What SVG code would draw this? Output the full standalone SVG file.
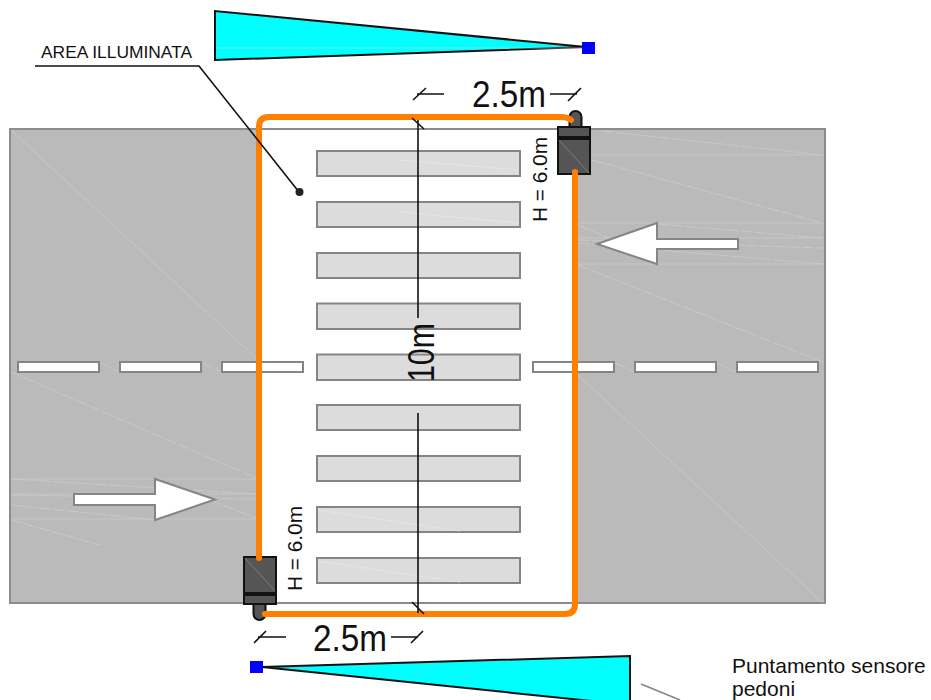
<svg xmlns="http://www.w3.org/2000/svg" width="931" height="700" viewBox="0 0 931 700">
<style>
text{font-family:"Liberation Sans",Arial,sans-serif;fill:#111}
.road{fill:#bababa;stroke:#8c8c8c;stroke-width:2}
.edge{fill:none;stroke:#8c8c8c;stroke-width:2}
.stripe{fill:#dcdcdc;stroke:#858585;stroke-width:2}
.dash{fill:#fff;stroke:#858585;stroke-width:2}
.arrow{fill:#fff;stroke:#858585;stroke-width:2}
.faint{fill:none;stroke:#d2d2d2;stroke-width:.6}
.fd{fill:none;stroke:#d2d2d2;stroke-width:.6;stroke-dasharray:12 2}
.st{fill:none;stroke:#ececec;stroke-width:.6;stroke-dasharray:12 2}
.orange{fill:none;stroke:#ff8000;stroke-width:6;stroke-linecap:round}
.body{fill:#555;stroke:#111;stroke-width:2}
.inner{fill:none;stroke:#999;stroke-width:.6}
.dim{fill:none;stroke:#111;stroke-width:1.6}
.cone{fill:#00ffff;stroke:#111;stroke-width:2}
.blue{fill:#0000ff}
.dimt{font-size:37px}
.ht{font-size:20.8px}
</style>
<g id="road">
<rect class="road" x="10" y="129" width="250" height="474"/>
<rect class="road" x="576" y="129" width="249" height="474"/>
<path class="edge" d="M260 129H576M260 603H576"/>
<g>
<path class="faint" d="M11 130L256 358M11 479H256M11 494H256M11 519H256M590 155H823M578 223H823M578 238H823M578 264H823M578 375L823 603"/>
<path class="fd" d="M11 372L256 478M157 480L256 518M11 520L100 545M578 225L620 243M578 265L823 362M11 479L256 494M11 495L256 499M11 505L155 520M602 131L823 155M592 160L823 223M657 224L823 238M578 240L823 248M578 243L823 264M101 363L119 372M203 363L221 372M615 363L634 372M717 363L736 372"/>
</g>
</g>
<g id="stripes">
<rect class="stripe" x="317" y="151" width="203" height="25"/>
<rect class="stripe" x="317" y="202" width="203" height="25"/>
<rect class="stripe" x="317" y="253" width="203" height="25"/>
<rect class="stripe" x="317" y="303.500" width="203" height="25.500"/>
<rect class="stripe" x="317" y="354.500" width="203" height="25.500"/>
<rect class="stripe" x="317" y="405" width="203" height="25"/>
<rect class="stripe" x="317" y="456" width="203" height="25"/>
<rect class="stripe" x="317" y="507" width="203" height="25"/>
<rect class="stripe" x="317" y="558" width="203" height="25"/>
<path class="st" d="M400 160L519 170M400 212L519 223M318 510L460 531M318 561L460 582"/>
</g>
<g id="centre-line">
<rect class="dash" x="18" y="362" width="81" height="10"/>
<rect class="dash" x="120" y="362" width="81" height="10"/>
<rect class="dash" x="222" y="362" width="81" height="10"/>
<rect class="dash" x="533" y="362" width="81" height="10"/>
<rect class="dash" x="635" y="362" width="81" height="10"/>
<rect class="dash" x="737" y="362" width="81" height="10"/>
</g>
<g id="traffic-arrows">
<path class="arrow" d="M74 494H155V479L215 499.500L155 520V505H74Z"/>
<path class="arrow" d="M738 239H657V223L597 244L657 264V249H738Z"/>
</g>
<g id="sensor-top">
<path class="body" d="M569.500 127V117A5.500 5.500 0 0 1 581.500 117V127Z"/>
<rect class="body" x="558" y="127" width="32" height="47"/>
<rect x="558" y="136" width="32" height="4" fill="#111"/>
<path class="inner" d="M559 140L589 173"/>
</g>
<g id="sensor-bottom">
<path class="body" d="M253.500 604V614A5.500 5.500 0 0 0 265.500 614V604Z"/>
<rect class="body" x="244" y="557" width="32" height="47"/>
<rect x="244" y="592" width="32" height="4" fill="#111"/>
<path class="inner" d="M245 558L275 591"/>
</g>
<g id="illuminated-area">
<path class="orange" d="M259 558V127Q259 117 269 117H560Q568 117 571 120"/>
<path class="orange" d="M575 172V604Q575 614 565 614H265"/>
</g>
<g id="dimensions">
<path class="dim" d="M418 120V318M418 413V613M412 118L424 129M412 602L424 614M413 100L426 88M417 94H444M550 94H577M568 101L581 88M254 643L266 631M258 637H286M391 637H418M411 643L423 631"/>
<text class="dimt" x="472" y="107" textLength="74" lengthAdjust="spacingAndGlyphs">2.5m</text>
<text class="dimt" x="313" y="651" textLength="74" lengthAdjust="spacingAndGlyphs">2.5m</text>
<text class="dimt" transform="translate(434 382) rotate(-90)" textLength="59" lengthAdjust="spacingAndGlyphs">10m</text>
<text class="ht" transform="translate(547 222) rotate(-90)">H = 6.0m</text>
<text class="ht" transform="translate(302 591) rotate(-90)">H = 6.0m</text>
</g>
<g id="sensor-cone-top">
<polygon class="cone" points="215,11 215,60 586,47"/>
<path class="faint" d="M216 48H583"/>
<rect class="blue" x="582" y="42" width="13" height="12"/>
</g>
<g id="sensor-cone-bottom">
<polygon class="cone" points="262,667 630,656 630,705"/>
<rect class="blue" x="250" y="661" width="13" height="12"/>
</g>
<g id="label-area">
<text x="41" y="58" font-size="17.400">AREA ILLUMINATA</text>
<path fill="none" stroke="#111" stroke-width="1.600" d="M35 66H199L299 192"/>
<circle cx="299.500" cy="192" r="4" fill="#222"/>
</g>
<g id="label-sensor">
<text x="732" y="673" font-size="21">Puntamento sensore</text>
<text x="732" y="695.500" font-size="21">pedoni</text>
<path fill="none" stroke="#858585" stroke-width="1.600" d="M641 684L680 700"/>
</g>
</svg>
